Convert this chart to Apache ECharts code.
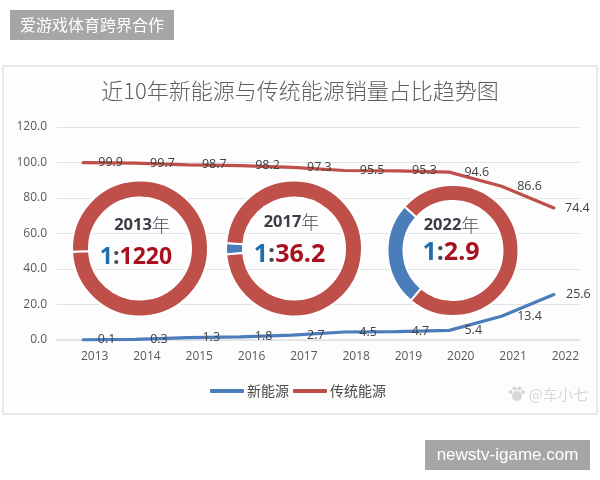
<!DOCTYPE html>
<html>
<head>
<meta charset="utf-8">
<style>html,body{margin:0;padding:0;background:#fff}#c{width:600px;height:480px}</style>
<script src="https://cdn.jsdelivr.net/npm/echarts@6/dist/echarts.min.js"></script>
</head>
<body>
<div id="c"></div>
<script>
// 年份与两类能源的销量占比（%）
const years = ['2013','2014','2015','2016','2017','2018','2019','2020','2021','2022'];
const newEnergy = [0.1,0.3,1.3,1.8,2.7,4.5,4.7,5.4,13.4,25.6];
const traditional = [99.9,99.7,98.7,98.2,97.3,95.5,95.3,94.6,86.6,74.4];

// 三个年份的新能源与传统能源比值
const ratioYears = ['2013','2017','2022'];
const ratioNew = [1,1,1];
const ratioOld = [1220,36.2,2.9];
const ratioText = ['1220','36.2','2.9'];

const CJK = '"Noto Sans CJK SC","Noto Sans",sans-serif';
const LATIN = '"Open Sans","Noto Sans CJK SC",sans-serif';
const BLUE = '#4a7dba', RED = '#be4f49';

// 折线标签相对数据点的水平偏移
const newOffsets = [23,23,23,23,23,23,23,23.5,27.5,24];
const oldOffsets = [27,26.5,26,27,26.5,27,27,27,27.5,23];

function lineSeries(name, values, color, offsets) {
  return {
    name, type: 'line', symbol: 'circle', symbolSize: 1, z: 3,
    data: values.map((v, i) => ({ value: v, label: { offset: [offsets[i], 0] } })),
    lineStyle: { color, width: 3.2, cap: 'round' },
    itemStyle: { color },
    label: {
      show: true, position: 'right', distance: 0, align: 'center', verticalAlign: 'middle',
      color: '#404040', fontFamily: LATIN, fontSize: 12.5,
      formatter: p => p.value.toFixed(1)
    }
  };
}

// 环形图的位置与两行文字的摆放
const donuts = [
  { center: [140, 248.5], r: [52, 67], start: 183, yearAt: [142, 225], ratioAt: [136, 257], ratioSize: 23 },
  { center: [294, 248.5], r: [52, 67], start: 185, yearAt: [291.5, 222.5], ratioAt: [289.5, 254.5], ratioSize: 25 },
  { center: [453, 250.5], r: [50.5, 64.5], start: 230, yearAt: [451.5, 225], ratioAt: [451, 252.5], ratioSize: 25 }
];
function donutSeries(d, i) {
  return {
    type: 'pie', silent: true, center: d.center, radius: [d.r[0] - 1, d.r[1] + 1],
    startAngle: d.start, clockwise: true, z: 5,
    label: { show: false }, labelLine: { show: false },
    itemStyle: { borderColor: '#ffffff', borderWidth: 2 },
    data: [
      { value: ratioNew[i], itemStyle: { color: BLUE } },
      { value: ratioOld[i], itemStyle: { color: RED } }
    ]
  };
}

function donutText(d, i) {
  const ratioFont = 'bold ' + d.ratioSize + 'px "Open Sans"';
  return [{
    type: 'text', z: 20, style: {
      x: d.yearAt[0], y: d.yearAt[1], align: 'center', verticalAlign: 'middle',
      text: '{y|' + ratioYears[i] + '}{n|年}',
      rich: {
        y: { font: 'bold 16.5px "Open Sans"', fill: '#3a3f46' },
        n: { font: '300 18px "Noto Sans CJK SC"', fill: '#4a4e54' }
      }
    }
  }, {
    type: 'text', z: 20, style: {
      x: d.ratioAt[0], y: d.ratioAt[1], align: 'center', verticalAlign: 'middle',
      text: '{a|' + ratioNew[i] + '}{b|:}{c|' + ratioText[i] + '}',
      rich: {
        a: { font: ratioFont, fill: '#1f6fae' },
        b: { font: ratioFont, fill: '#444a50' },
        c: { font: ratioFont, fill: '#a8121f' }
      }
    }
  }];
}

// 署名前的爪印小图标
const PAW = '#d6d8da';
const pawMark = [[510.5,392,2],[514.5,388.5,2.1],[519.5,388.5,2.1],[523,392,2],[517,396,5]].map(c => (
  { type: 'circle', z: 31, shape: { cx: c[0], cy: c[1], r: c[2] }, style: { fill: PAW } }
));

const chart = echarts.init(document.getElementById('c'), null, { renderer: 'canvas' });
chart.setOption({
  backgroundColor: '#ffffff',
  animation: false,
  title: {
    text: '近10年新能源与传统能源销量占比趋势图',
    left: 295, top: 75, textAlign: 'center',
    textStyle: { fontFamily: CJK, fontWeight: 300, fontSize: 22, color: '#5c5f63' }
  },
  legend: {
    left: 205, top: 379, itemWidth: 34, itemHeight: 4, itemGap: 4,
    icon: 'roundRect',
    data: ['新能源', '传统能源'],
    textStyle: { fontFamily: CJK, fontSize: 14, color: '#4a4a4a', padding: [0,0,0,-2] }
  },
  grid: { left: 57, right: 20, top: 127, height: 213 },
  xAxis: {
    type: 'category', data: years, boundaryGap: true,
    axisLine: { lineStyle: { color: '#dde1e6', width: 1.5 } }, axisTick: { show: false },
    axisLabel: { color: '#595959', fontFamily: LATIN, fontSize: 12, margin: 11, padding: [0,0,0,23], interval: 0 }
  },
  yAxis: {
    type: 'value', min: 0, max: 120, interval: 20,
    axisLine: { show: false }, axisTick: { show: false },
    axisLabel: { color: '#595959', fontFamily: LATIN, fontSize: 12, margin: 10, formatter: v => v.toFixed(1) },
    splitLine: { lineStyle: { color: '#e0e3e8', width: 1.2 } }
  },
  series: [
    lineSeries('新能源', newEnergy, BLUE, newOffsets),
    lineSeries('传统能源', traditional, RED, oldOffsets),
    ...donuts.map(donutSeries)
  ],
  graphic: [
    // 图表外框
    { type: 'rect', z: -1, shape: { x: 3, y: 66, width: 594, height: 348 },
      style: { fill: '#fdfdfe', stroke: '#dfe2e6', lineWidth: 1.5 } },
    // 左上与右下的灰色标签
    { type: 'rect', z: 30, shape: { x: 10, y: 10, width: 164, height: 30 }, style: { fill: '#a6a6a6' } },
    { type: 'text', z: 31, style: { x: 92, y: 25, align: 'center', verticalAlign: 'middle',
      text: '爱游戏体育跨界合作', font: '16px "Noto Sans CJK SC"', fill: '#ffffff' } },
    { type: 'rect', z: 30, shape: { x: 425, y: 440, width: 165, height: 30 }, style: { fill: '#a6a6a6' } },
    { type: 'text', z: 31, style: { x: 507.5, y: 455, align: 'center', verticalAlign: 'middle',
      text: 'newstv-igame.com', font: '17px "Liberation Sans"', fill: '#ffffff' } },
    // 右下角署名
    { type: 'text', z: 31, style: { x: 588, y: 394, align: 'right', verticalAlign: 'middle',
      text: '@车小七', font: '15px "Noto Sans CJK SC"', fill: PAW } },
    ...pawMark,
    ...donuts.flatMap(donutText)
  ]
});
</script>
</body>
</html>
